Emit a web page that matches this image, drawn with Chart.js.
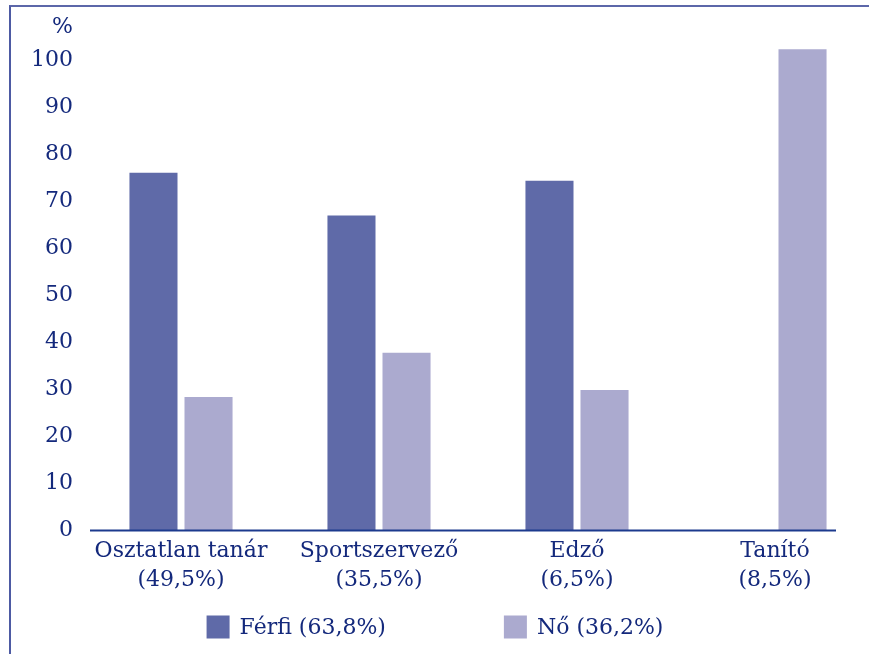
<!DOCTYPE html>
<html>
<head>
<meta charset="utf-8">
<script src="https://cdn.jsdelivr.net/npm/chart.js@4"></script>
<style>
    html, body { margin: 0; padding: 0; background: #fff; overflow: hidden; }
    .wrap { position: relative; width: 874px; height: 654px; }
    .frame {
        position: absolute; left: 9px; top: 5px; right: -20px; bottom: -20px;
        border-top: 2px solid #5c67a9; border-left: 2px solid #4d5aa3;
        pointer-events: none;
    }
</style>
</head>
<body>
<div class="wrap">
    <canvas id="jobChart" width="874" height="654"></canvas>
    <div class="frame"></div>
</div>
<script>
// Foglalkozás szerinti megoszlás nemenként
const categories = [
    ['Osztatlan tanár', '(49,5%)'],
    ['Sportszervező', '(35,5%)'],
    ['Edző', '(6,5%)'],
    ['Tanító', '(8,5%)']
];
const ferfi = [76.1, 67.0, 74.4, 0];
const no = [28.4, 37.8, 29.9, 102.4];
const yTicks = [0, 10, 20, 30, 40, 50, 60, 70, 80, 90, 100];
const yTop = 107;   // itt áll a "%" jel

const navy = '#14297c';
const font = { family: '"DejaVu Serif", serif', size: 22, lineHeight: 1.32 };

// tengelyvonal + jelmagyarázat kézzel, hogy a helyük pontos legyen
const extras = {
    id: 'extras',
    afterDatasetsDraw(chart) {
        const { ctx, chartArea } = chart;
        const y0 = chart.scales.y.getPixelForValue(0);
        ctx.save();
        ctx.strokeStyle = '#1c3a8e';
        ctx.lineWidth = 2;
        ctx.beginPath();
        ctx.moveTo(chartArea.left + 8, y0);
        ctx.lineTo(chartArea.right - 38, y0);
        ctx.stroke();
        ctx.restore();
    },
    afterDraw(chart) {
        const { ctx } = chart;
        const box = 23, gap = 10, between = 118;
        const cy = chart.scales.y.getPixelForValue(0) + 96.5;
        ctx.save();
        ctx.font = font.size + 'px ' + font.family;
        const items = chart.data.datasets.map(ds => ({
            text: ds.label, color: ds.backgroundColor,
            w: box + gap + ctx.measureText(ds.label).width
        }));
        const total = items.reduce((s, it) => s + it.w, 0) + between * (items.length - 1);
        let x = 435 - total / 2;
        ctx.textBaseline = 'middle';
        ctx.textAlign = 'left';
        items.forEach(it => {
            ctx.fillStyle = it.color;
            ctx.fillRect(x, cy - box / 2, box, box);
            ctx.fillStyle = navy;
            ctx.fillText(it.text, x + box + gap, cy + 1);
            x += it.w + between;
        });
        ctx.restore();
    }
};

new Chart(document.getElementById('jobChart'), {
    type: 'bar',
    data: {
        labels: categories,
        datasets: [
            {
                label: 'Férfi (63,8%)',
                data: ferfi,
                backgroundColor: '#5f6aa8',
                barPercentage: 0.873,
                categoryPercentage: 0.556
            },
            {
                label: 'Nő (36,2%)',
                data: no,
                backgroundColor: '#abaacf',
                barPercentage: 0.873,
                categoryPercentage: 0.556
            }
        ]
    },
    options: {
        responsive: false,
        animation: false,
        layout: { padding: { top: 27.6, right: 0, bottom: 0, left: 1 } },
        plugins: {
            legend: { display: false },
            tooltip: { enabled: false }
        },
        scales: {
            x: {
                grid: { display: false, drawTicks: false },
                border: { display: false },
                ticks: { color: navy, font: font, padding: 6, maxRotation: 0, autoSkip: false },
                afterFit(scale) { scale.height = 123.5; }
            },
            y: {
                min: 0,
                max: yTop,
                grid: { display: false, drawTicks: false },
                border: { display: false },
                ticks: {
                    color: navy,
                    font: font,
                    padding: 9,
                    callback: v => (v === yTop ? '%' : v)
                },
                afterBuildTicks(scale) {
                    scale.ticks = yTicks.concat([yTop]).map(v => ({ value: v }));
                },
                afterFit(scale) { scale.width = 81; }
            }
        }
    },
    plugins: [extras]
});
</script>
</body>
</html>
